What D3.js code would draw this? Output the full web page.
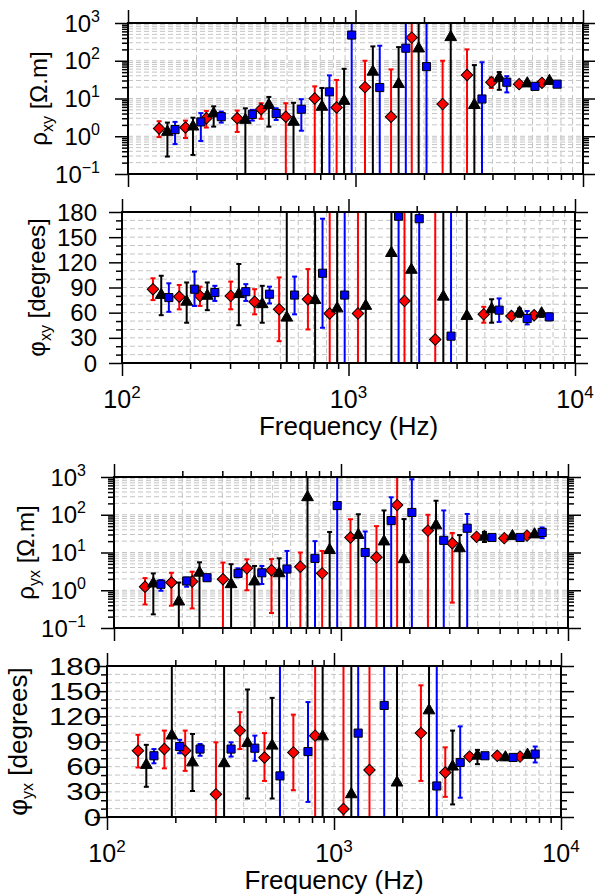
<!DOCTYPE html>
<meta charset="utf-8">
<script src="https://d3js.org/d3.v7.min.js"></script>
<style>
body { margin: 0; background: #fff; }
text { font-family: "Liberation Sans", Arial, sans-serif; fill: #000; }
</style>
<svg id="chart" width="595" height="894"></svg>
<script>
// frequencies (Hz) of the three sites
var freqRed   = [137, 179, 221, 302, 385, 494, 662, 826, 1101, 1433, 1767, 2415, 3092, 3955, 5240, 6600];
var freqBlack = [149, 193, 238, 328, 416, 534, 712, 891, 1192, 1547, 1895, 2622, 3330, 4285, 5690, 7120];
var freqBlue  = [161, 209, 257, 352, 448, 578, 768, 962, 1278, 1664, 2052, 2836, 3597, 4624, 6150, 7695];

// [value, low, high] ; null = not shown. lows/highs far outside the axis run off the frame
var rhoXYRed = [[1.6,0.95,2.5],[1.7,0.9,2.6],[3.0,1.7,4.7],[3.0,1.3,4.8],[5.2,2.9,7.5],[3.3,1e-3,7.5],
  [10,1e-3,21],[5.8,1e-3,31],[20,1e-3,100],[3.3,1e-3,59],[410,1e-3,1e5],[7.1,1e-3,100],[42,1e-3,200],
  [27,19,36],[24,21,27],[26,23,29]];
var rhoXYBlack = [[1.3,0.29,2.3],[1.8,0.32,3.1],[4.0,1.8,6.2],[2.7,1e-3,5.5],[6.7,1.8,11],[2.4,1e-3,7.7],
  [6.0,1e-3,19],[8.6,1e-3,61],[51,1e-3,240],[24,1e-3,230],[210,1e-3,1e5],[420,1e-3,1e5],[6.7,1e-3,77],
  [35,17,50],[25,22,29],[29,26,32]];
var rhoXYBlue = [[1.5,0.62,2.4],[2.4,0.75,4.1],[3.3,2.3,4.5],[3.8,2.6,5],[4.0,2.7,5.5],[5.2,1.4,9.6],
  [15,1e-3,41],[480,1e-3,1e5],[19.5,1e-3,250],[215,1e-3,1e5],[70,1e-3,1e5],null,[9.7,1e-3,91],
  [27,14.5,39],[21,18,24],[24,22,26]];

var phiXYRed = [[88,75,101],[79,64,93],[80,68,91],[80,64,97],[73,58,88],[64,26,102],[76,40,112],
  [59,-90,270],[59,-90,270],null,[74,-90,270],[28,-90,270],null,[58,48,67],[56,53,60],[57,54,60]];
var phiXYBlack = [[81,57,104],[73,48,96],[80,63,96],[82,45,118],[70,48,92],[54,-90,270],[75,-90,270],
  [65,-90,270],[68,-90,270],[131,-90,270],[111,-90,270],[79,-90,270],[56,-90,270],[64,48,76],[60,55,65],[59,55,62]];
var phiXYBlue = [[78,61,95],[88,68,109],[84,74,92],[85,74,94],[82,71,91],[81,58,103],[107,42,172],
  [81,-90,270],null,[175,-90,270],[172,-90,270],[32,-90,270],null,[63,49,77],[53,46,62],[55,51,59]];

var rhoYXRed = [[1.24,0.42,2.1],[1.6,0.39,2.9],[1.7,0.33,3.1],[1.95,1e-3,5.4],[3.8,1.0,6.6],[3.4,0.25,6.7],
  [4.2,1e-3,10],[2.8,1e-3,11],[25,1e-3,76],[7.5,1e-3,50],[180,1e-3,1e5],[38,1e-3,100],[17.5,0.47,33],
  [26,23,29],[24,22,27],[28,25,31]];
var rhoYXBlack = [[1.5,0.23,2.8],[0.5,1e-3,1.6],[2.9,1e-3,5.5],[1.44,1e-3,4.9],[1.7,1e-3,4.4],[2.8,1e-3,7],
  [290,1e-3,1e5],[11.6,1e-3,35],[29,1e-3,103],[19.5,1e-3,130],[6.6,1e-3,77],[52,1e-3,235],[12.9,1e-3,29],
  [26,19,35],[27,24,30],[30,27,33]];
var rhoYXBlue = [[1.44,0.97,1.87],[1.76,1.24,2.15],[2.15,1.8,2.5],[2.8,2.2,3.8],[2.9,1.46,4.4],[3.65,1e-3,11],
  [7.0,1e-3,20],[175,1e-3,1000],[10,1e-3,36],[70,1e-3,290],[115,1e-3,870],[21,1e-3,130],[44,1e-3,105],
  [25,22,28],[25,22,28],[34,24,46]];

var phiYXRed = [[79,59,98],[81,58,103],[79,55,103],[27,-90,89],[103,81,125],[71,43,100],[77,32,122],
  [97,-90,270],[9.5,-90,270],[56,-90,270],null,[100,43,157],[53,24,83],[72,69,76],[73,70,76],[72,69,75]];
var phiYXBlack = [[62,36,86],[97,-90,270],[65,31,99],[64,-90,270],[88,22,152],[85,22,142],null,
  [96,-90,270],[27,-90,270],null,[41,-90,270],[127,-90,270],[60,15,103],[73,63,80],[71,68,74],[74,71,77]];
var phiYXBlue = [[73,64,81],[84,76,92],[81,73,87],[81,72,89],[82,67,97],[49,-90,270],[78,18,137],
  null,[100,-90,270],[133,-90,270],null,[37,-90,270],[65,23,108],[73,70,76],[71,68,74],[75,65,84]];

var freqTicks = [100, 1000, 10000];
var rhoTicks = [0.1, 1, 10, 100, 1000];
var phiTicks = [0, 30, 60, 90, 120, 150, 180];

var svg = d3.select("#chart");

// one entry per panel (frame position in px); sx = horizontal stretch of the y tick labels
var panels = [
  {id: "p1", kind: "rho", sub: "xy", data: [rhoXYRed, rhoXYBlack, rhoXYBlue], x0: 128, x1: 583, y0: 23, y1: 174, labR: 100, sx: 1, titleX: 47, fs: 24, xlab: false},
  {id: "p2", kind: "phi", sub: "xy", data: [phiXYRed, phiXYBlack, phiXYBlue], x0: 122, x1: 575, y0: 212, y1: 363, labR: 97, sx: 1, titleX: 45, fs: 24, xlab: true},
  {id: "p3", kind: "rho", sub: "yx", data: [rhoYXRed, rhoYXBlack, rhoYXBlue], x0: 114, x1: 568, y0: 477, y1: 628, labR: 86, sx: 1, titleX: 34, fs: 24, xlab: false},
  {id: "p4", kind: "phi", sub: "yx", data: [phiYXRed, phiYXBlack, phiYXBlue], x0: 107, x1: 561, y0: 666, y1: 817, labR: 101, sx: 1.3, titleX: 27, fs: 26, xlab: true}
];

var freqs = [freqRed, freqBlack, freqBlue];
var colors = ["#ff0000", "#000000", "#0000ff"];
var shapes = [
  d3.symbol().type(d3.symbolSquare).size(66),   // rotated -> diamond
  d3.symbol().type(d3.symbolTriangle).size(60),
  d3.symbol().type(d3.symbolSquare).size(66)
];

var supers = {"-1": "\u22121", "0": "0", "1": "1", "2": "2", "3": "3", "4": "4"};

panels.forEach(function(p) {
  var x = d3.scaleLog().domain([100, 10000]).range([p.x0, p.x1]);
  var y = p.kind == "rho"
    ? d3.scaleLog().domain([0.1, 1000]).range([p.y1, p.y0])
    : d3.scaleLinear().domain([0, 180]).range([p.y1, p.y0]);

  var xMinor = x.ticks().filter(function(v) { return freqTicks.indexOf(v) < 0; });
  var yMajor = p.kind == "rho" ? rhoTicks : phiTicks;
  var yAll = p.kind == "rho" ? y.ticks() : d3.range(0, 181, 10);
  var yMinor = yAll.filter(function(v) { return yMajor.indexOf(v) < 0; });

  var g = svg.append("g");

  // dashed grid
  g.append("g").selectAll("line").data(x.ticks().filter(function(v){ return v > 100 && v < 10000; }))
    .enter().append("line")
      .attr("x1", function(d){ return x(d); }).attr("x2", function(d){ return x(d); })
      .attr("y1", p.y0).attr("y2", p.y1)
      .attr("stroke", "#c4c4c4").attr("stroke-width", 1).attr("stroke-dasharray", "5,3");
  g.append("g").selectAll("line").data(yAll.filter(function(v){ return y(v) > p.y0 + 0.5 && y(v) < p.y1 - 0.5; }))
    .enter().append("line")
      .attr("y1", function(d){ return y(d); }).attr("y2", function(d){ return y(d); })
      .attr("x1", p.x0).attr("x2", p.x1)
      .attr("stroke", "#c4c4c4").attr("stroke-width", 1).attr("stroke-dasharray", "5,3");

  // ticks on all four sides, pointing out
  function ticks(axis, pos, vals, size) {
    g.append("g").attr("transform", pos)
      .call(axis.tickValues(vals).tickSize(size).tickFormat(""))
      .call(function(s) {
        s.select(".domain").remove();
        s.selectAll("line").attr("stroke", "#000").attr("stroke-width", 1.5);
      });
  }
  ticks(d3.axisTop(x), "translate(0," + p.y0 + ")", freqTicks, 13);
  ticks(d3.axisTop(x), "translate(0," + p.y0 + ")", xMinor, 6);
  ticks(d3.axisBottom(x), "translate(0," + p.y1 + ")", freqTicks, 13);
  ticks(d3.axisBottom(x), "translate(0," + p.y1 + ")", xMinor, 6);
  ticks(d3.axisLeft(y), "translate(" + p.x0 + ",0)", yMajor, 13);
  ticks(d3.axisLeft(y), "translate(" + p.x0 + ",0)", yMinor, 6);
  ticks(d3.axisRight(y), "translate(" + p.x1 + ",0)", yMajor, 13);
  ticks(d3.axisRight(y), "translate(" + p.x1 + ",0)", yMinor, 6);

  // clip for error bars
  svg.append("clipPath").attr("id", "clip-" + p.id)
    .append("rect").attr("x", p.x0).attr("y", p.y0).attr("width", p.x1 - p.x0).attr("height", p.y1 - p.y0);

  var dg = g.append("g").attr("clip-path", "url(#clip-" + p.id + ")");

  p.data.forEach(function(series, si) {
    var pts = series.map(function(d, i) { return d ? {f: freqs[si][i], v: d[0], lo: d[1], hi: d[2]} : null; })
      .filter(function(d) { return d; });

    var eb = dg.append("g").attr("stroke", colors[si]).attr("stroke-width", 2);
    eb.selectAll(".bar").data(pts).enter().append("line")
      .attr("x1", function(d){ return x(d.f); }).attr("x2", function(d){ return x(d.f); })
      .attr("y1", function(d){ return y(d.lo); }).attr("y2", function(d){ return y(d.hi); });
    eb.selectAll(".capLo").data(pts).enter().append("line")
      .attr("x1", function(d){ return x(d.f) - 2.5; }).attr("x2", function(d){ return x(d.f) + 2.5; })
      .attr("y1", function(d){ return y(d.lo); }).attr("y2", function(d){ return y(d.lo); });
    eb.selectAll(".capHi").data(pts).enter().append("line")
      .attr("x1", function(d){ return x(d.f) - 2.5; }).attr("x2", function(d){ return x(d.f) + 2.5; })
      .attr("y1", function(d){ return y(d.hi); }).attr("y2", function(d){ return y(d.hi); });

    dg.append("g").selectAll("path").data(pts).enter().append("path")
      .attr("d", shapes[si])
      .attr("transform", function(d) {
        return "translate(" + x(d.f) + "," + y(d.v) + ")" + (si == 0 ? " rotate(45)" : "");
      })
      .attr("fill", colors[si]).attr("stroke", "#000").attr("stroke-width", 1);
  });

  // frame
  g.append("rect").attr("x", p.x0).attr("y", p.y0).attr("width", p.x1 - p.x0).attr("height", p.y1 - p.y0)
    .attr("fill", "none").attr("stroke", "#000").attr("stroke-width", 2);

  // y tick labels
  yMajor.forEach(function(v) {
    var t = g.append("text")
      .attr("transform", "translate(" + p.labR + "," + y(v) + ") scale(" + p.sx + ",1)")
      .attr("dy", "0.36em")
      .attr("text-anchor", "end").style("font-size", "24px");
    if (p.kind == "rho") {
      var e = Math.round(Math.log10(v));
      t.append("tspan").text("10");
      t.append("tspan").attr("dy", -10).style("font-size", "16px").text(supers[e]);
    } else {
      t.text(v);
    }
  });

  // y title
  var tt = g.append("text")
    .attr("transform", "translate(" + p.titleX + "," + (p.y0 + p.y1) / 2 + ") rotate(-90)")
    .attr("text-anchor", "middle").style("font-size", p.fs + "px");
  tt.append("tspan").text(p.kind == "rho" ? "\u03c1" : "\u03c6");
  tt.append("tspan").attr("dy", 6).style("font-size", "16px").text(p.sub);
  tt.append("tspan").attr("dy", -6).text(p.kind == "rho" ? " [\u03a9.m]" : " [degrees]");

  // x labels
  if (p.xlab) {
    freqTicks.forEach(function(v) {
      var t = g.append("text").attr("x", x(v)).attr("y", p.y1 + 45)
        .attr("text-anchor", "middle").style("font-size", "25px");
      t.append("tspan").text("10");
      t.append("tspan").attr("dy", -10).style("font-size", "17px").text(supers[Math.round(Math.log10(v))]);
    });
    g.append("text").attr("x", (p.x0 + p.x1) / 2).attr("y", p.y1 + 72)
      .attr("text-anchor", "middle").style("font-size", "26px")
      .text("Frequency (Hz)");
  }
});
</script>
